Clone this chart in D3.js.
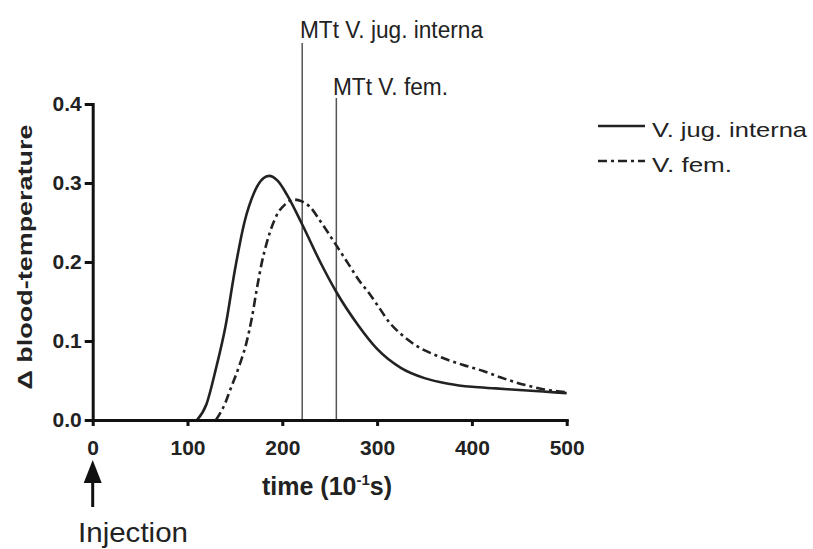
<!DOCTYPE html>
<html>
<head>
<meta charset="utf-8">
<script src="https://cdn.jsdelivr.net/npm/d3@7"></script>
<style>
  body { margin: 0; background: #fff; }
  svg { font-family: "Liberation Sans", Arial, sans-serif; }
  .axis path, .axis line { stroke: #111; stroke-width: 3; }
  .axis text { font-size: 21px; font-weight: bold; fill: #222; }
</style>
</head>
<body>
<div id="graf"></div>
<script>
// Datos
const tJug = [110, 120, 130, 140, 150, 160, 170, 180, 186, 195, 205, 220, 240, 257, 280, 300, 325, 350, 375, 400, 425, 450, 475, 500]
const vJug = [0, 0.02, 0.065, 0.118, 0.19, 0.25, 0.287, 0.306, 0.309, 0.303, 0.285, 0.25, 0.2, 0.162, 0.12, 0.09, 0.066, 0.053, 0.046, 0.042, 0.04, 0.038, 0.036, 0.034]

const tFem = [130, 140, 145, 155, 162, 168, 173, 178, 184, 194, 203, 212, 220, 229, 240, 257, 270, 282, 290, 300, 314, 324, 340, 366, 390, 412, 430, 454, 475, 500]
const vFem = [0, 0.022, 0.038, 0.07, 0.097, 0.13, 0.165, 0.197, 0.226, 0.259, 0.273, 0.279, 0.277, 0.27, 0.252, 0.221, 0.197, 0.175, 0.163, 0.146, 0.122, 0.11, 0.095, 0.08, 0.07, 0.062, 0.054, 0.045, 0.039, 0.035]

const series = ['V. jug. interna', 'V. fem.']
const mttValues = [221, 257]
const mttLabels = ['MTt V. jug. interna', 'MTt V. fem.']
const xTicks = [0, 100, 200, 300, 400, 500]
const yTicks = [0, 0.1, 0.2, 0.3, 0.4]

// Dimensiones
const anchoTotal = 813
const altoTotal = 549

const svg = d3.select('#graf').append('svg')
    .attr('width', anchoTotal)
    .attr('height', altoTotal)

// Escaladores
const x = d3.scaleLinear().domain([0, 500]).range([92.7, 566.7])
const y = d3.scaleLinear().domain([0, 0.4]).range([420, 104])

const line = d3.line()
    .x(d => x(d[0]))
    .y(d => y(d[1]))
    .curve(d3.curveMonotoneX)

const dash = '9,4,3,4'
const lineData = [
    { name: series[0], pts: d3.zip(tJug, vJug), dash: null },
    { name: series[1], pts: d3.zip(tFem, vFem), dash: dash }
]

// Lineas MTt
const mtt = svg.append('g')
mttValues.forEach((v, i) => {
    mtt.append('line')
        .attr('x1', x(v)).attr('x2', x(v))
        .attr('y1', i == 0 ? 43 : 98)
        .attr('y2', y(0))
        .attr('stroke', '#555')
        .attr('stroke-width', 1.5)
})
mtt.append('text')
    .attr('x', 300).attr('y', 38)
    .attr('font-size', 23)
    .attr('fill', '#222')
    .attr('textLength', 183).attr('lengthAdjust', 'spacingAndGlyphs')
    .text(mttLabels[0])
mtt.append('text')
    .attr('x', 333).attr('y', 95)
    .attr('font-size', 23)
    .attr('fill', '#222')
    .attr('textLength', 115).attr('lengthAdjust', 'spacingAndGlyphs')
    .text(mttLabels[1])

// Curvas
svg.selectAll('path.curva')
    .data(lineData)
    .enter()
    .append('path')
    .attr('class', 'curva')
    .attr('d', d => line(d.pts))
    .attr('fill', 'none')
    .attr('stroke', '#222')
    .attr('stroke-width', 2.6)
    .attr('stroke-dasharray', d => d.dash)

// Ejes
const xAxis = d3.axisBottom(x).tickValues(xTicks).tickSize(6).tickSizeOuter(0).tickPadding(14)
const yAxis = d3.axisLeft(y).tickValues(yTicks).tickFormat(d3.format('.1f')).tickSize(8).tickSizeOuter(0).tickPadding(3)

svg.append('g')
    .attr('class', 'axis')
    .attr('transform', `translate(0, ${y(0)})`)
    .call(xAxis)

svg.append('g')
    .attr('class', 'axis')
    .attr('transform', `translate(${x(0)}, 0)`)
    .call(yAxis)

svg.selectAll('.axis .domain').attr('stroke-linecap', 'square')

// Titulos de ejes
svg.append('text')
    .attr('transform', 'translate(32, 257) rotate(-90)')
    .attr('text-anchor', 'middle')
    .attr('font-size', 21)
    .attr('font-weight', 'bold')
    .attr('fill', '#222')
    .attr('textLength', 265).attr('lengthAdjust', 'spacingAndGlyphs')
    .text('\u0394 blood-temperature')

const tt = svg.append('text')
    .attr('x', 262).attr('y', 495)
    .attr('font-size', 25)
    .attr('font-weight', 'bold')
    .attr('fill', '#222')
tt.append('tspan').text('time (10')
tt.append('tspan').attr('font-size', 15).attr('dy', -10).text('-1')
tt.append('tspan').attr('dy', 10).text('s)')

// Inyeccion
const x0 = x(0)
svg.append('path')
    .attr('d', `M${x0},460 L${x0 - 9},483 L${x0 + 9},483 Z`)
    .attr('fill', '#111')
svg.append('line')
    .attr('x1', x0).attr('x2', x0)
    .attr('y1', 480).attr('y2', 507)
    .attr('stroke', '#111')
    .attr('stroke-width', 3)
svg.append('text')
    .attr('x', 78).attr('y', 542)
    .attr('font-size', 28)
    .attr('fill', '#222')
    .attr('textLength', 110).attr('lengthAdjust', 'spacingAndGlyphs')
    .text('Injection')

// Leyenda
const leyenda = svg.append('g')
const lw = [137, 172]
lineData.forEach((d, i) => {
    leyenda.append('line')
        .attr('x1', 598).attr('x2', 645)
        .attr('y1', lw[i] - 11).attr('y2', lw[i] - 11)
        .attr('stroke', '#222')
        .attr('stroke-width', 2.6)
        .attr('stroke-dasharray', d.dash)
    leyenda.append('text')
        .attr('x', 652).attr('y', lw[i])
        .attr('font-size', 21)
        .attr('fill', '#222')
        .attr('textLength', i == 0 ? 155 : 80).attr('lengthAdjust', 'spacingAndGlyphs')
        .text(d.name)
})
</script>
</body>
</html>
